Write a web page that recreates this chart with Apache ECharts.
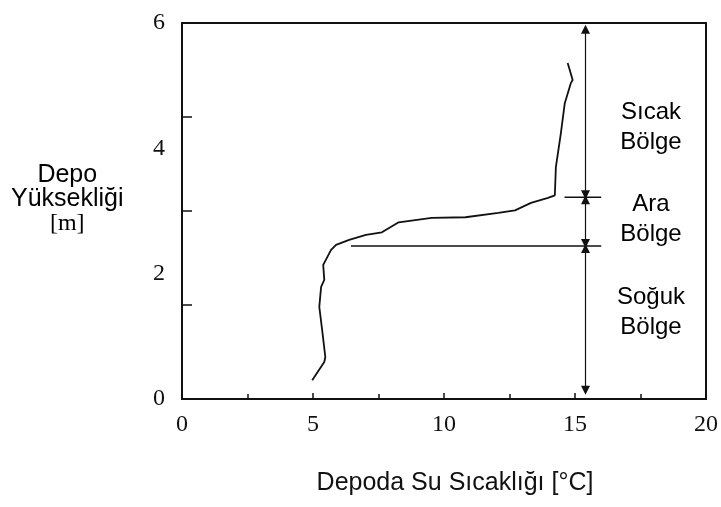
<!DOCTYPE html>
<html>
<head>
<meta charset="utf-8">
<script src="https://cdn.jsdelivr.net/npm/echarts@6/dist/echarts.min.js"></script>
<style>html,body{margin:0;padding:0;background:#fff;}#c{width:721px;height:507px;}</style>
</head>
<body>
<div id="c"></div>
<script>
// Temperature profile (°C) vs tank height (m)
const tempC   = [4.97, 5.43, 5.47, 5.35, 5.24, 5.31, 5.43, 5.39, 5.54, 5.69, 5.88, 6.38, 7.02, 7.63, 8.27, 9.53, 10.82, 12.07, 12.71, 13.32, 13.97, 14.23, 14.27, 14.46, 14.61, 14.84, 14.91, 14.80, 14.72];
const heightM = [0.30, 0.59, 0.67, 1.10, 1.47, 1.79, 1.90, 2.14, 2.26, 2.38, 2.46, 2.54, 2.62, 2.66, 2.82, 2.89, 2.90, 2.97, 3.01, 3.13, 3.21, 3.25, 3.70, 4.24, 4.72, 5.04, 5.09, 5.25, 5.36];
// Zone boundary lines [tempStart, tempEnd, height]
const upperBoundary = [14.6, 16.0, 3.22];
const lowerBoundary = [6.45, 16.0, 2.44];
// Zone arrows at x = arrowX: [fromH, toH]
const arrowX = 15.4;
const zoneArrows = [[5.90, 3.26], [3.18, 2.48], [2.40, 0.14]];
const xTicks = [0, 5, 10, 15, 20];
const yTicks = [0, 2, 4, 6];
const zoneNames = ['Sıcak\nBölge', 'Ara\nBölge', 'Soğuk\nBölge'];
const zoneLabelPos = [[17.9, 4.34], [17.9, 2.87], [17.9, 1.39]];

const ink = '#111';
const chart = echarts.init(document.getElementById('c'), null, {renderer: 'canvas'});
chart.setOption({
  animation: false,
  backgroundColor: '#fff',
  grid: {left: 182, right: 12, top: 23, bottom: 108, show: true, borderColor: ink, borderWidth: 2, backgroundColor: 'transparent'},
  xAxis: {
    type: 'value', min: xTicks[0], max: xTicks[xTicks.length - 1], interval: 5,
    axisLine: {show: true, lineStyle: {color: ink, width: 2}},
    axisTick: {show: true, inside: true, length: 6, lineStyle: {color: ink, width: 1.5}},
    minorTick: {show: true, splitNumber: 2, length: 5, lineStyle: {color: ink, width: 1.5}},
    splitLine: {show: false},
    axisLabel: {color: ink, fontFamily: 'Liberation Serif', fontSize: 24, margin: 14},
    name: 'Depoda Su Sıcaklığı [°C]', nameLocation: 'middle', nameGap: 72,
    nameTextStyle: {color: ink, fontFamily: 'Liberation Sans', fontSize: 25, padding: [0, 0, 0, 22]}
  },
  yAxis: [{
    type: 'value', min: yTicks[0], max: yTicks[yTicks.length - 1], interval: 2,
    axisLine: {show: true, lineStyle: {color: ink, width: 2}},
    axisTick: {show: false},
    splitLine: {show: false},
    axisLabel: {color: ink, fontFamily: 'Liberation Serif', fontSize: 24, margin: 17}
  }, {
    type: 'value', min: 0, max: 6, interval: 1.5, position: 'left',
    axisLine: {show: false},
    axisTick: {show: true, inside: true, length: 10, lineStyle: {color: ink, width: 1.5}},
    axisLabel: {show: false}, splitLine: {show: false}
  }],
  graphic: [{
    type: 'text', left: 11, top: 163, z: 10,
    style: {
      text: '{a|Depo}\n{a|Yüksekliği}\n{b|[m]}', align: 'center',
      rich: {
        a: {fontFamily: 'Liberation Sans', fontSize: 25, lineHeight: 24, color: '#222', align: 'center'},
        b: {fontFamily: 'Liberation Serif', fontSize: 24, lineHeight: 25, color: '#222', align: 'center'}
      }
    }
  }],
  series: [{
    type: 'line', data: tempC.map((t, i) => [t, heightM[i]]),
    showSymbol: false, symbol: 'none', smooth: false,
    lineStyle: {color: ink, width: 1.8}, z: 3
  }, {
    type: 'line', symbol: 'none',
    data: [[upperBoundary[0], upperBoundary[2]], [upperBoundary[1], upperBoundary[2]]],
    lineStyle: {color: ink, width: 1.5}
  }, {
    type: 'line', symbol: 'none',
    data: [[lowerBoundary[0], lowerBoundary[2]], [lowerBoundary[1], lowerBoundary[2]]],
    lineStyle: {color: ink, width: 1.5},
    markLine: {
      silent: true, symbol: ['triangle', 'triangle'], symbolSize: 9,
      lineStyle: {color: ink, width: 1.2, type: 'solid'},
      label: {show: false},
      data: zoneArrows.map(a => [{coord: [arrowX, a[0]]}, {coord: [arrowX, a[1]]}])
    }
  }, {
    type: 'scatter', symbolSize: 1, silent: true, itemStyle: {color: '#fff', opacity: 1},
    data: zoneLabelPos.map((p, i) => ({value: p, name: zoneNames[i]})),
    label: {
      show: true, position: 'inside', formatter: p => p.name,
      fontFamily: 'Liberation Sans', fontSize: 24, lineHeight: 30, color: '#000', align: 'center'
    }
  }]
});
</script>
</body>
</html>
